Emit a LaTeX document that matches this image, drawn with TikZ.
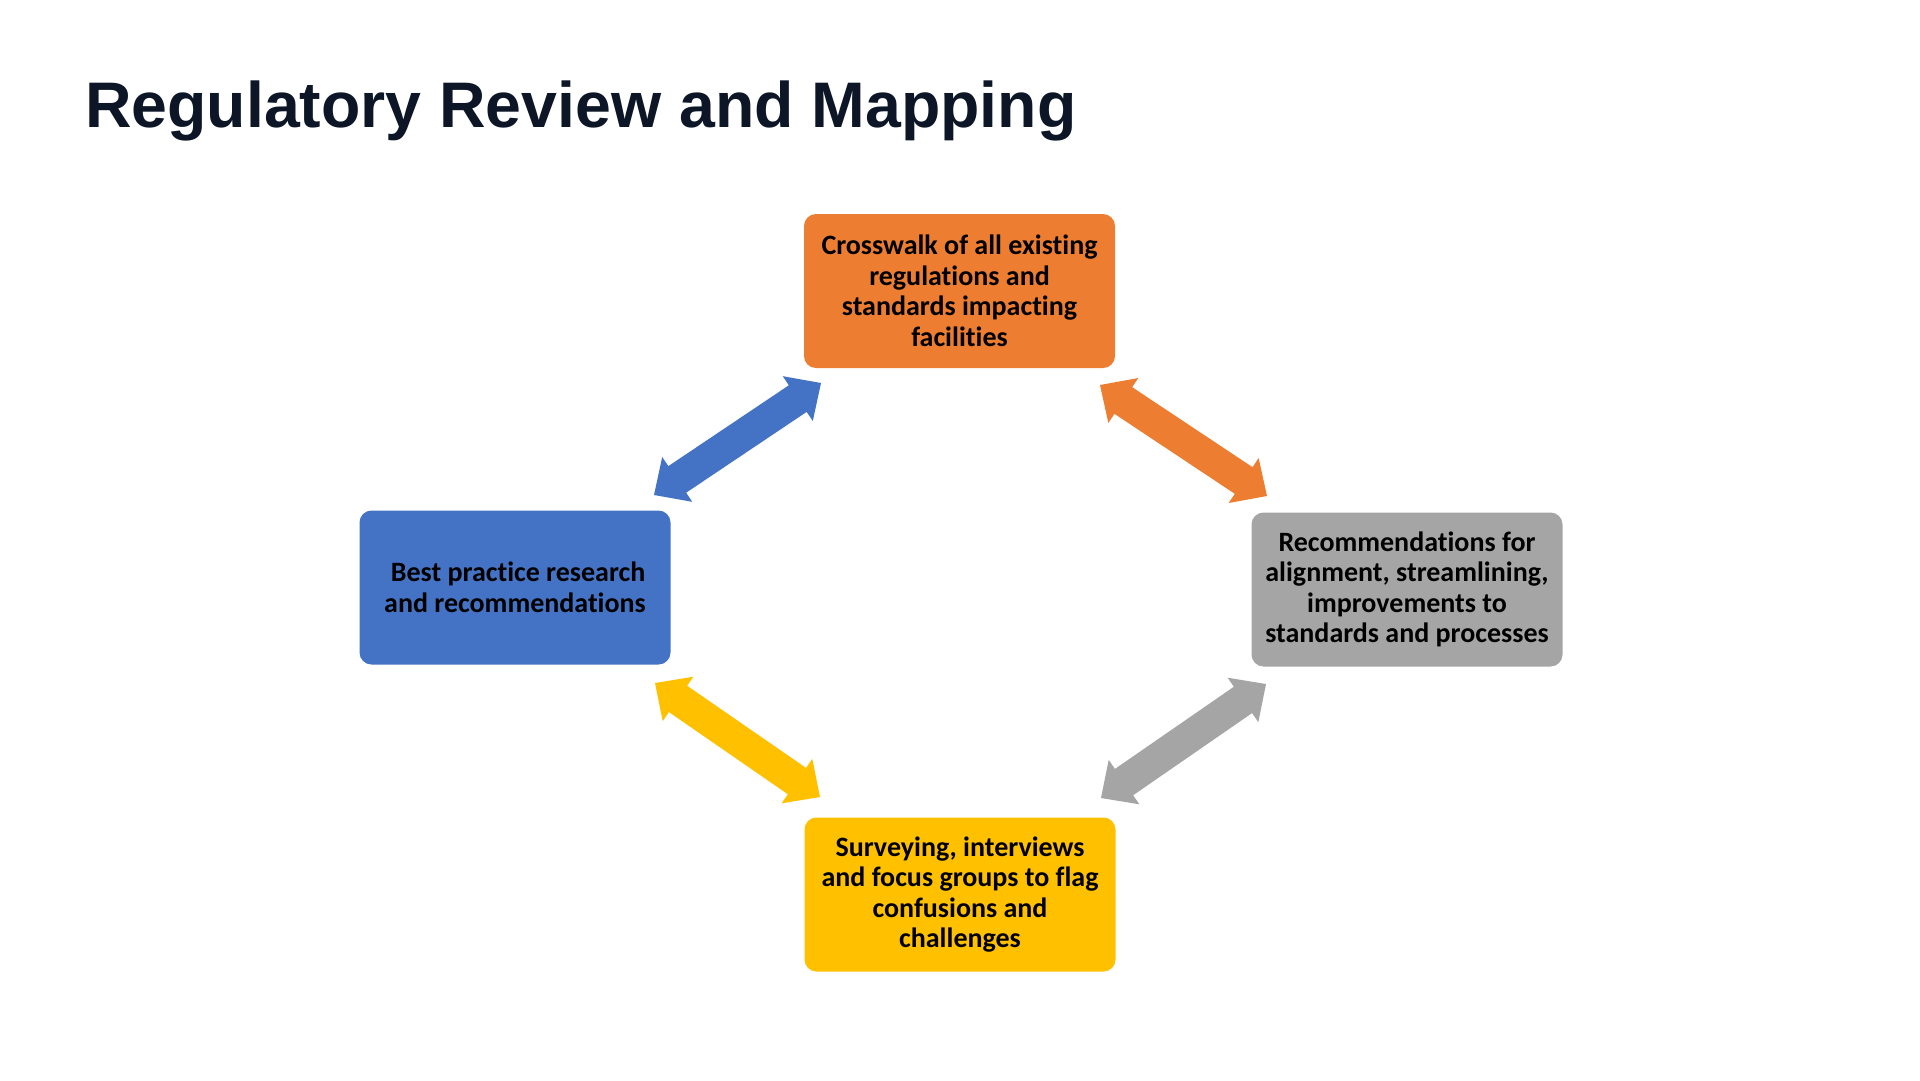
\documentclass[tikz,border=0pt]{standalone}
\usepackage{fontspec}
\setmainfont{Carlito}[Ligatures={NoCommon}]
\newfontfamily\titlefont{Liberation Sans}
\usetikzlibrary{calc}
\definecolor{cOrange}{HTML}{ED7D31}
\definecolor{cBlue}{HTML}{4472C4}
\definecolor{cGray}{HTML}{A5A5A5}
\definecolor{cYellow}{HTML}{FFC000}
\definecolor{cTitle}{HTML}{0C1627}
\newcommand{\dblarr}[3]{%
  \coordinate (ha) at ($(#1)!28pt!(#2)$);
  \coordinate (hb) at ($(#2)!28pt!(#1)$);
  \fill[#3] (#1) -- ($(ha)!27pt!90:(#2)$) -- ($(ha)!16pt!90:(#2)$)
    -- ($(hb)!16pt!-90:(#1)$) -- ($(hb)!27pt!-90:(#1)$) -- (#2)
    -- ($(hb)!27pt!90:(#1)$) -- ($(hb)!16pt!90:(#1)$)
    -- ($(ha)!16pt!-90:(#2)$) -- ($(ha)!27pt!-90:(#2)$) -- cycle;
}
\tikzset{
  stepbox/.style={rounded corners=12pt, minimum width=311pt, minimum height=154pt,
    inner sep=0pt, align=center, text=black,
    font=\fontsize{28pt}{30.5pt}\selectfont\bfseries},
  titletext/.style={font=\titlefont\fontsize{64.4pt}{76pt}\selectfont\bfseries, text=cTitle, inner sep=0pt, anchor=base west}
}
\begin{document}
\begin{tikzpicture}[x=1pt,y=-1pt]
\useasboundingbox[fill=white] (0,0) rectangle (1920,1080);
\node[titletext] (title) at (85,127) {Regulatory Review and Mapping};
\node[stepbox, fill=cOrange] (top) at (959.5,291) {Crosswalk of all existing\\regulations and\\standards impacting\\facilities};
\node[stepbox, fill=cBlue] (left) at (515,587.5) {\hspace*{0.226em}Best practice research\\and recommendations};
\node[stepbox, fill=cGray] (right) at (1407,589.5) {Recommendations for\\alignment, streamlining,\\improvements to\\standards and processes};
\node[stepbox, fill=cYellow] (bottom) at (960,894.5) {Surveying, interviews\\and focus groups to flag\\confusions and\\challenges};
\coordinate (bl1) at (654,495);
\coordinate (bl2) at (821,383);
\coordinate (or1) at (1100,385);
\coordinate (or2) at (1267,496);
\coordinate (ye1) at (655,683);
\coordinate (ye2) at (820,797);
\coordinate (gr1) at (1266,684);
\coordinate (gr2) at (1101,798);
\dblarr{bl1}{bl2}{cBlue}
\dblarr{or1}{or2}{cOrange}
\dblarr{ye1}{ye2}{cYellow}
\dblarr{gr1}{gr2}{cGray}
\end{tikzpicture}
\end{document}
